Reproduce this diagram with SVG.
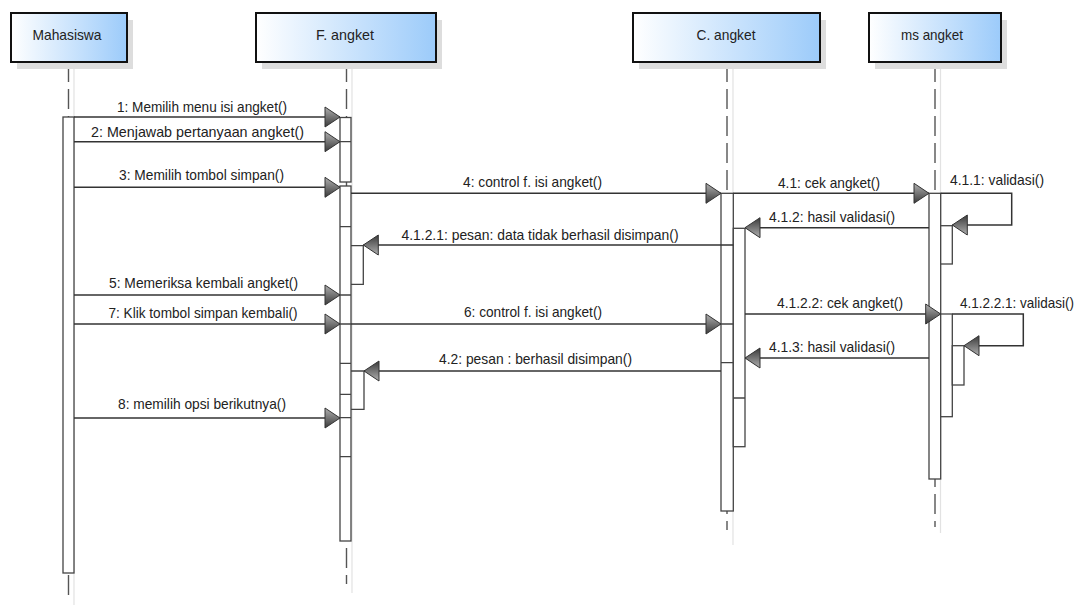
<svg xmlns="http://www.w3.org/2000/svg" width="1079" height="605" viewBox="0 0 1079 605">
<style>
text{font-family:"Liberation Sans",Arial,sans-serif;font-size:15px;fill:#222}
.hd{fill:url(#hg);stroke:#111;stroke-width:2}
.sh{fill:#dddddd}
.life{stroke:#555;stroke-width:1.4;stroke-dasharray:20 7;fill:none}
.lsh{stroke:#e2e2e2;stroke-width:1.2;fill:none}
.act{fill:#fff;stroke:#444;stroke-width:1.3}
.sep{stroke:#444;stroke-width:1.3;fill:none}
.msg{stroke:#333;stroke-width:1.5;fill:none;marker-end:url(#ah)}
.mid{text-anchor:middle}
</style>
<defs>
<linearGradient id="hg" x1="0" y1="0" x2="1" y2="0">
<stop offset="0" stop-color="#ffffff"/>
<stop offset="1" stop-color="#9ccbfa"/>
</linearGradient>
<linearGradient id="ag" x1="0" y1="0" x2="0" y2="1">
<stop offset="0" stop-color="#b0b0b0"/>
<stop offset="1" stop-color="#3a3a3a"/>
</linearGradient>
<marker id="ah" viewBox="0 0 15 20" refX="15" refY="10" markerWidth="15" markerHeight="20" markerUnits="userSpaceOnUse" orient="auto" overflow="visible">
<path d="M0,0 L15,10 L0,20 Z" fill="url(#ag)" stroke="#333" stroke-width="1"/>
</marker>
</defs>
<rect width="1079" height="605" fill="#fff"/>

<g id="mahasiswa">
<line class="lsh" x1="74" y1="69" x2="74" y2="605"/>
<line class="life" x1="68.5" y1="62" x2="68.5" y2="602"/>
<rect class="sh" x="17" y="20" width="116" height="49"/>
<rect class="hd" x="11" y="13" width="116" height="49"/>
<text class="mid" x="67" y="40" textLength="69" lengthAdjust="spacingAndGlyphs">Mahasiswa</text>
<rect class="act" x="63" y="117" width="11" height="456"/>
</g>

<g id="f-angket">
<line class="lsh" x1="352" y1="69" x2="352" y2="593"/>
<line class="life" x1="346.5" y1="62" x2="346.5" y2="584"/>
<rect class="sh" x="262" y="20" width="180" height="49"/>
<rect class="hd" x="256" y="13" width="180" height="49"/>
<text class="mid" x="345" y="40" textLength="58" lengthAdjust="spacingAndGlyphs">F. angket</text>
<rect class="act" x="340" y="117.5" width="11" height="64.5"/>
<rect class="act" x="340" y="186" width="11" height="355"/>
<path class="sep" d="M340,141.7H351M340,226.7H351M340,295H351M340,324H351M340,363.3H351M340,394.3H351M340,417.7H351M340,456.7H351"/>
<path class="sep" d="M351,245.7H363.3V284.3H351"/>
<path class="sep" d="M351,371H364V409.3H351"/>
</g>

<g id="c-angket">
<line class="lsh" x1="733" y1="69" x2="733" y2="545"/>
<line class="life" x1="727" y1="62" x2="727" y2="530"/>
<rect class="sh" x="639" y="20" width="187" height="49"/>
<rect class="hd" x="633" y="13" width="187" height="49"/>
<text class="mid" x="726" y="40" textLength="59" lengthAdjust="spacingAndGlyphs">C. angket</text>
<rect class="act" x="721" y="193.3" width="12.3" height="317.7"/>
<rect class="act" x="733.3" y="228.3" width="11.7" height="218.4"/>
<path class="sep" d="M721,324H733.3M721,362.7H733.3M733.3,398H745"/>
</g>

<g id="ms-angket">
<line class="lsh" x1="940.5" y1="69" x2="940.5" y2="533"/>
<line class="life" x1="935" y1="62" x2="935" y2="527"/>
<rect class="sh" x="875" y="20" width="132" height="49"/>
<rect class="hd" x="869" y="13" width="132" height="49"/>
<text class="mid" x="932" y="40" textLength="62" lengthAdjust="spacingAndGlyphs">ms angket</text>
<rect class="act" x="929" y="193.3" width="11.7" height="285.7"/>
<rect class="act" x="940.7" y="225.7" width="11.6" height="38.3"/>
<rect class="act" x="940.7" y="314" width="11.6" height="102.7"/>
<rect class="act" x="952.3" y="345.7" width="11.7" height="39.3"/>
</g>

<g id="connectors">
<path class="msg" d="M74,117H340"/>
<path class="msg" d="M74,141.7H340"/>
<path class="msg" d="M74,187.3H340"/>
<path class="msg" d="M351,193.3H721"/>
<path class="msg" d="M733.3,193.3H929"/>
<path class="msg" d="M940.7,193.3H1011.7V225H952.3"/>
<path class="msg" d="M929,227.7H745"/>
<path class="msg" d="M733.3,245H363.3"/>
<path class="msg" d="M74,295H340"/>
<path class="msg" d="M74,324H340"/>
<path class="msg" d="M351,324H721"/>
<path class="msg" d="M745,314H940.7"/>
<path class="msg" d="M952.3,314H1023.3V345.7H964"/>
<path class="msg" d="M929,358H745"/>
<path class="msg" d="M721,371H364"/>
<path class="msg" d="M74,418H340"/>
</g>

<g id="labels">
<text class="mid" x="202" y="112" textLength="170" lengthAdjust="spacingAndGlyphs">1: Memilih menu isi angket()</text>
<text class="mid" x="197.5" y="137" textLength="213" lengthAdjust="spacingAndGlyphs">2: Menjawab pertanyaan angket()</text>
<text class="mid" x="201.5" y="179.5" textLength="165" lengthAdjust="spacingAndGlyphs">3: Memilih tombol simpan()</text>
<text class="mid" x="532.5" y="186.5" textLength="139" lengthAdjust="spacingAndGlyphs">4: control f. isi angket()</text>
<text class="mid" x="829" y="188" textLength="102" lengthAdjust="spacingAndGlyphs">4.1: cek angket()</text>
<text x="950" y="185" textLength="94" lengthAdjust="spacingAndGlyphs">4.1.1: validasi()</text>
<text class="mid" x="832" y="221.5" textLength="126" lengthAdjust="spacingAndGlyphs">4.1.2: hasil validasi()</text>
<text class="mid" x="540" y="240" textLength="277" lengthAdjust="spacingAndGlyphs">4.1.2.1: pesan: data tidak berhasil disimpan()</text>
<text class="mid" x="203.5" y="287.5" textLength="189" lengthAdjust="spacingAndGlyphs">5: Memeriksa kembali angket()</text>
<text class="mid" x="840" y="308" textLength="126" lengthAdjust="spacingAndGlyphs">4.1.2.2: cek angket()</text>
<text x="960" y="307.5" textLength="114" lengthAdjust="spacingAndGlyphs">4.1.2.2.1: validasi()</text>
<text class="mid" x="203" y="318" textLength="189" lengthAdjust="spacingAndGlyphs">7: Klik tombol simpan kembali()</text>
<text class="mid" x="533" y="316.5" textLength="138" lengthAdjust="spacingAndGlyphs">6: control f. isi angket()</text>
<text class="mid" x="832" y="351.5" textLength="126" lengthAdjust="spacingAndGlyphs">4.1.3: hasil validasi()</text>
<text class="mid" x="535.5" y="364" textLength="193" lengthAdjust="spacingAndGlyphs">4.2: pesan : berhasil disimpan()</text>
<text class="mid" x="202" y="409" textLength="168" lengthAdjust="spacingAndGlyphs">8: memilih opsi berikutnya()</text>
</g>
</svg>
